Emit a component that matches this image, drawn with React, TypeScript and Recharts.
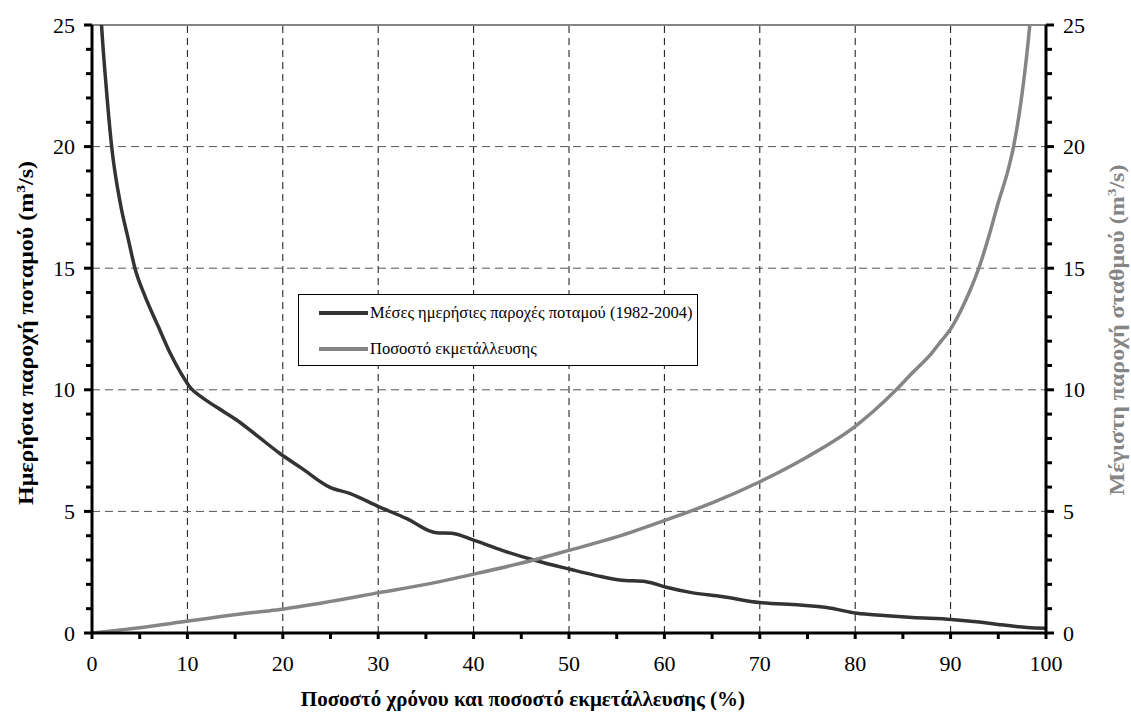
import { LineChart, Line, XAxis, YAxis, ReferenceLine, Legend, Label } from "recharts";

// Μέσες ημερήσιες παροχές ποταμού – flow duration curve (m3/s)
const flowPct = [0, 0.5, 1.0, 1.5, 2.06, 3.0, 3.8, 4.5, 5.5, 6.95, 8.2, 9.3, 10.4, 11.5, 13.0, 15.2, 17.5, 19.7, 22.0, 24.9, 27.0, 30.1, 33.0, 36.1, 37.7, 40.0, 43.0, 46.3, 50.1, 53.0, 55.3, 58.1, 60.2, 63.0, 66.0, 70.0, 74.2, 77.0, 80.2, 83.0, 86.0, 90.1, 93.0, 95.0, 98.0, 100];
const flowValues = [34, 29, 25, 22.4, 20, 17.6, 16.2, 15, 13.9, 12.6, 11.5, 10.7, 10.05, 9.7, 9.3, 8.75, 8.05, 7.38, 6.77, 6.0, 5.74, 5.19, 4.7, 4.12, 4.1, 3.82, 3.4, 3.0, 2.62, 2.35, 2.18, 2.11, 1.88, 1.65, 1.5, 1.25, 1.15, 1.05, 0.81, 0.72, 0.64, 0.56, 0.45, 0.35, 0.23, 0.2];

// Ποσοστό εκμετάλλευσης – station capacity curve (m3/s)
const capPct = [0, 5, 10.1, 16.6, 19.7, 25, 30.1, 35, 40, 46.3, 50.1, 55, 60.2, 65, 70, 75, 80, 82, 84.3, 86, 88, 89, 90, 91, 92, 93, 94, 95, 96, 96.6, 97.6, 98.3, 99];
const capValues = [0, 0.22, 0.49, 0.83, 0.97, 1.3, 1.66, 2.0, 2.42, 3.0, 3.41, 3.95, 4.65, 5.35, 6.22, 7.25, 8.5, 9.15, 10.0, 10.7, 11.5, 12.0, 12.5, 13.2, 14.05, 15.05, 16.3, 17.7, 19.0, 20, 22.5, 25, 28.5];

const xTicks = [0, 5, 10, 15, 20, 25, 30, 35, 40, 45, 50, 55, 60, 65, 70, 75, 80, 85, 90, 95, 100];
const yTicks = [0, 1, 2, 3, 4, 5, 6, 7, 8, 9, 10, 11, 12, 13, 14, 15, 16, 17, 18, 19, 20, 21, 22, 23, 24, 25];
const xGrid = [10, 20, 30, 40, 50, 60, 70, 80, 90];
const yGrid = [5, 10, 15, 20];

const flowData = flowPct.map((p, i) => ({ pct: p, flow: flowValues[i] }));
const capData = capPct.map((p, i) => ({ pct: p, cap: capValues[i] }));

const FONT = "Liberation Serif, Times New Roman, DejaVu Serif, serif";
const DARK = "#333333";
const GREY = "#858585";

const txt = { fontFamily: FONT };

const LeftTick = (props: any) => {
  const { x, y, payload } = props;
  const major = payload.value % 5 === 0;
  return (
    <g>
      <line x1={x - (major ? 8 : 6)} x2={x} y1={y} y2={y} stroke="#000" strokeWidth={3} />
      {major && (
        <text x={x - 17} y={y + 7.5} textAnchor="end" fontSize={22} style={txt} fill="#000">
          {payload.value}
        </text>
      )}
    </g>
  );
};

const RightTick = (props: any) => {
  const { x, y, payload } = props;
  const major = payload.value % 5 === 0;
  return (
    <g>
      <line x1={x} x2={x + (major ? 8 : 6)} y1={y} y2={y} stroke="#000" strokeWidth={3} />
      {major && (
        <text x={x + 17} y={y + 7.5} textAnchor="start" fontSize={22} style={txt} fill="#000">
          {payload.value}
        </text>
      )}
    </g>
  );
};

const BottomTick = (props: any) => {
  const { x, y, payload } = props;
  const major = payload.value % 10 === 0;
  return (
    <g>
      <line x1={x} x2={x} y1={y} y2={y + 6} stroke="#000" strokeWidth={3} />
      {major && (
        <text x={x} y={y + 38} textAnchor="middle" fontSize={22} style={txt} fill="#000">
          {payload.value}
        </text>
      )}
    </g>
  );
};

// the original export is stretched vertically, so the rotated titles are stretched along their length
const LeftTitle = (props: any) => {
  const { viewBox } = props;
  const cx = viewBox.x + 1;
  const cy = viewBox.y + viewBox.height / 2 + 4;
  return (
    <text
      x={0}
      y={0}
      transform={`translate(${cx} ${cy}) rotate(-90) scale(1.2 1)`}
      textAnchor="middle"
      fontSize={20}
      fontWeight="bold"
      style={txt}
      fill="#000"
    >
      Ημερήσια παροχή ποταμού (m<tspan dy={-8} fontSize={13}>3</tspan>
      <tspan dy={8}>/s)</tspan>
    </text>
  );
};

const RightTitle = (props: any) => {
  const { viewBox } = props;
  const cx = viewBox.x + 78;
  const cy = viewBox.y + viewBox.height / 2 + 1;
  return (
    <text
      x={0}
      y={0}
      transform={`translate(${cx} ${cy}) rotate(-90) scale(1.2 1)`}
      textAnchor="middle"
      fontSize={20}
      fontWeight="bold"
      style={txt}
      fill={GREY}
    >
      Μέγιστη παροχή σταθμού (m<tspan dy={-8} fontSize={13}>3</tspan>
      <tspan dy={8}>/s)</tspan>
    </text>
  );
};

const BottomTitle = (props: any) => {
  const { viewBox } = props;
  const cx = viewBox.x + viewBox.width / 2 - 46;
  return (
    <text x={cx} y={viewBox.y + 73} textAnchor="middle" fontSize={21} fontWeight="bold" style={txt} fill="#000">
      Ποσοστό χρόνου και ποσοστό εκμετάλλευσης (%)
    </text>
  );
};

const renderLegend = (props: any) => {
  const { payload } = props;
  return (
    <div
      style={{
        border: "1px solid #000",
        background: "#fff",
        padding: "0 0 0 20px",
        fontFamily: FONT,
        fontSize: 16.5,
        color: "#000",
        whiteSpace: "nowrap",
        boxSizing: "border-box",
        height: 72,
      }}
    >
      {payload.map((entry: any) => (
        <div key={entry.value} style={{ display: "flex", alignItems: "center", height: 36 }}>
          <svg width={49} height={6} style={{ marginRight: 2 }}>
            <line x1={0} x2={49} y1={3} y2={3} stroke={entry.color} strokeWidth={4} />
          </svg>
          <span>{entry.value}</span>
        </div>
      ))}
    </div>
  );
};

export default function App() {
  return (
    <div style={{ position: "absolute", left: 0, top: 0, background: "#fff" }}>
      <LineChart width={1131} height={715} margin={{ top: 25, right: 25, bottom: 22, left: 32 }}>
        <XAxis
          dataKey="pct"
          type="number"
          domain={[0, 100]}
          ticks={xTicks}
          interval={0}
          tickSize={0}
          tickMargin={0}
          tick={<BottomTick />}
          axisLine={{ stroke: "#000", strokeWidth: 3 }}
          height={60}
          allowDuplicatedCategory={false}
        >
          <Label content={<BottomTitle />} />
        </XAxis>
        <YAxis
          yAxisId="left"
          orientation="left"
          type="number"
          domain={[0, 25]}
          allowDataOverflow
          ticks={yTicks}
          interval={0}
          tickSize={0}
          tickMargin={0}
          tick={<LeftTick />}
          axisLine={{ stroke: "#000", strokeWidth: 3 }}
          width={60}
        >
          <Label content={<LeftTitle />} />
        </YAxis>
        <YAxis
          yAxisId="right"
          orientation="right"
          type="number"
          domain={[0, 25]}
          allowDataOverflow
          ticks={yTicks}
          interval={0}
          tickSize={0}
          tickMargin={0}
          tick={<RightTick />}
          axisLine={{ stroke: "#000", strokeWidth: 3 }}
          width={60}
        >
          <Label content={<RightTitle />} />
        </YAxis>

        {xGrid.map((v) => (
          <ReferenceLine key={`vx${v}`} x={v} yAxisId="left" stroke="#111" strokeWidth={1} strokeDasharray="7 5" />
        ))}
        {yGrid.map((v) => (
          <ReferenceLine key={`hy${v}`} y={v} yAxisId="left" stroke="#555" strokeWidth={1} strokeDasharray="8 5" />
        ))}
        <ReferenceLine y={25} yAxisId="left" stroke={GREY} strokeWidth={2} />

        <Line
          yAxisId="left"
          data={flowData}
          dataKey="flow"
          name="Μέσες ημερήσιες παροχές ποταμού (1982-2004)"
          type="monotone"
          stroke={DARK}
          strokeWidth={3.5}
          dot={false}
          isAnimationActive={false}
        />
        <Line
          yAxisId="right"
          data={capData}
          dataKey="cap"
          name="Ποσοστό εκμετάλλευσης"
          type="monotone"
          stroke={GREY}
          strokeWidth={3.5}
          dot={false}
          isAnimationActive={false}
        />
        <Legend
          layout="horizontal"
          verticalAlign="middle"
          align="center"
          content={renderLegend}
          wrapperStyle={{ left: 298, top: 294, width: 400, right: "auto", bottom: "auto" }}
        />
      </LineChart>
    </div>
  );
}
